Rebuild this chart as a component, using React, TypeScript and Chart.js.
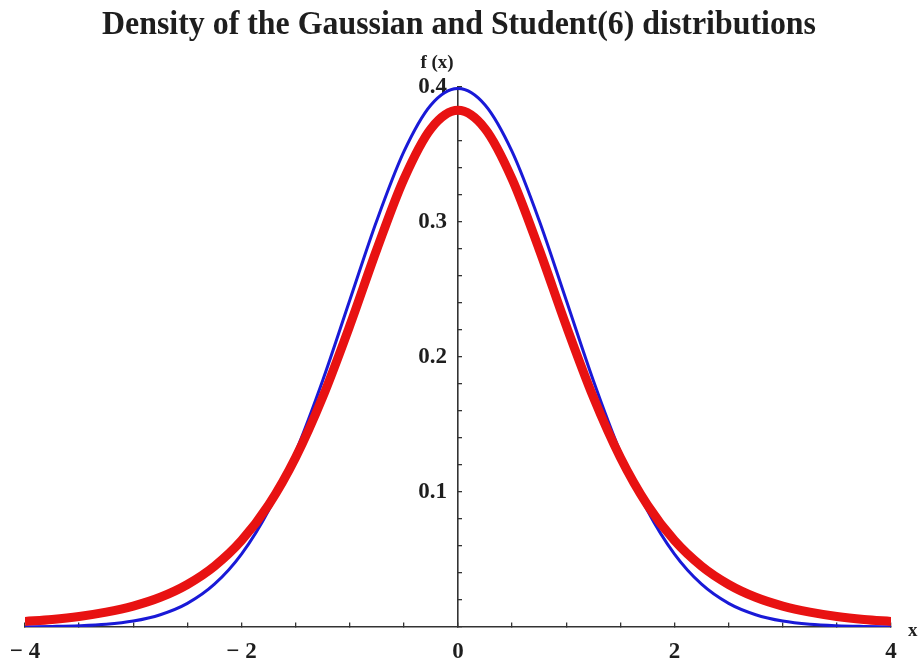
import React, { useEffect, useRef } from "react";
import { Chart, registerables } from "chart.js";

Chart.register(...registerables);

const chartTitle = "Density of the Gaussian and Student(6) distributions";
const yAxisLabel = "f (x)";
const xAxisLabel = "x";

// sample positions along the x axis
const xValues = [
  -4, -3.75, -3.5, -3.25, -3, -2.75, -2.5, -2.25, -2, -1.75, -1.5, -1.25, -1, -0.75, -0.5, -0.25,
  0, 0.25, 0.5, 0.75, 1, 1.25, 1.5, 1.75, 2, 2.25, 2.5, 2.75, 3, 3.25, 3.5, 3.75, 4,
];

// standard normal density
const gaussian = [
  0.0001, 0.0004, 0.0009, 0.002, 0.0044, 0.0091, 0.0175, 0.0317, 0.054, 0.0863, 0.1295, 0.1826,
  0.242, 0.3011, 0.3521, 0.3867, 0.3989, 0.3867, 0.3521, 0.3011, 0.242, 0.1826, 0.1295, 0.0863,
  0.054, 0.0317, 0.0175, 0.0091, 0.0044, 0.002, 0.0009, 0.0004, 0.0001,
];

// Student t density with 6 degrees of freedom
const student6 = [
  0.0041, 0.0056, 0.0078, 0.011, 0.0155, 0.022, 0.0315, 0.045, 0.064, 0.0904, 0.1256, 0.1703,
  0.2231, 0.2797, 0.3318, 0.3691, 0.3827, 0.3691, 0.3318, 0.2797, 0.2231, 0.1703, 0.1256, 0.0904,
  0.064, 0.045, 0.0315, 0.022, 0.0155, 0.011, 0.0078, 0.0056, 0.0041,
];

const xTickLabels = [-4, -2, 0, 2, 4];
const yTickLabels = [0.1, 0.2, 0.3, 0.4];

const SERIF = "'Liberation Serif', 'Times New Roman', serif";
const INK = "#1e1e1e";

const labelsPlugin = {
  id: "plotLabels",
  afterDraw(chart: any) {
    const { ctx, scales } = chart;
    const xs = scales.x;
    const ys = scales.y;
    ctx.save();
    ctx.fillStyle = INK;
    // condensed bold title, centred over the plot
    ctx.font = `bold 34px ${SERIF}`;
    ctx.textBaseline = "middle";
    ctx.textAlign = "center";
    const w = ctx.measureText(chartTitle).width;
    const sx = 714 / w;
    ctx.translate(chart.width / 2, 25);
    ctx.scale(sx, 1);
    ctx.fillText(chartTitle, 0, 0);
    ctx.restore();

    ctx.save();
    ctx.fillStyle = INK;
    ctx.font = `bold 19px ${SERIF}`;
    ctx.textAlign = "center";
    ctx.textBaseline = "middle";
    ctx.fillText(yAxisLabel, xs.getPixelForValue(0) - 21, ys.top - 24);
    ctx.textAlign = "left";
    ctx.fillText(xAxisLabel, xs.getPixelForValue(4) + 17, ys.getPixelForValue(0) + 4);
    ctx.restore();
  },
};

export default function App() {
  const canvasRef = useRef<HTMLCanvasElement | null>(null);

  useEffect(() => {
    const canvas = canvasRef.current;
    if (!canvas) return;
    const chart = new Chart(canvas, {
      type: "line",
      data: {
        datasets: [
          {
            label: "Gaussian",
            data: xValues.map((x, i) => ({ x, y: gaussian[i] })),
            borderColor: "rgb(25, 25, 215)",
            borderWidth: 3,
            pointRadius: 0,
            cubicInterpolationMode: "monotone",
            fill: false,
            order: 1,
          },
          {
            label: "Student(6)",
            data: xValues.map((x, i) => ({ x, y: student6[i] })),
            borderColor: "rgb(232, 18, 18)",
            borderWidth: 9,
            pointRadius: 0,
            cubicInterpolationMode: "monotone",
            fill: false,
            order: 0,
          },
        ],
      },
      options: {
        animation: false,
        responsive: true,
        maintainAspectRatio: false,
        layout: { padding: { top: 87, left: 25, right: 27, bottom: 37 } },
        plugins: {
          legend: { display: false },
          title: { display: false },
          tooltip: { enabled: false },
        },
        scales: {
          x: {
            type: "linear",
            min: -4,
            max: 4,
            position: { y: 0 },
            // end labels may hang past the plot edges
            afterFit: (scale: any) => {
              scale.paddingLeft = 0;
              scale.paddingRight = 0;
            },
            border: { display: true, color: "#333", width: 1.6 },
            grid: { drawOnChartArea: false, drawTicks: true, tickLength: -5, color: "#333", lineWidth: 1.3 },
            ticks: {
              stepSize: 0.5,
              autoSkip: false,
              maxRotation: 0,
              padding: 16,
              color: INK,
              font: { family: SERIF, weight: "bold", size: 23 },
              callback: (v: any) => {
                const n = Number(v);
                return xTickLabels.includes(n) ? (n < 0 ? "\u2212 " + Math.abs(n) : String(n)) : "";
              },
            },
          },
          y: {
            type: "linear",
            min: 0,
            max: 0.4,
            position: "center",
            border: { display: true, color: "#333", width: 1.6 },
            grid: { drawOnChartArea: false, drawTicks: true, tickLength: -5, color: "#333", lineWidth: 1.3 },
            ticks: {
              stepSize: 0.02,
              autoSkip: false,
              padding: 16,
              color: INK,
              font: { family: SERIF, weight: "bold", size: 23 },
              callback: (v: any) => {
                const n = Math.round(Number(v) * 100) / 100;
                return yTickLabels.includes(n) ? n.toFixed(1) : "";
              },
            },
          },
        },
      },
      plugins: [labelsPlugin],
    });
    return () => chart.destroy();
  }, []);

  return (
    <div style={{ position: "fixed", left: 0, top: 0, width: 918, height: 664, background: "#fff" }}>
      <canvas ref={canvasRef} />
    </div>
  );
}
